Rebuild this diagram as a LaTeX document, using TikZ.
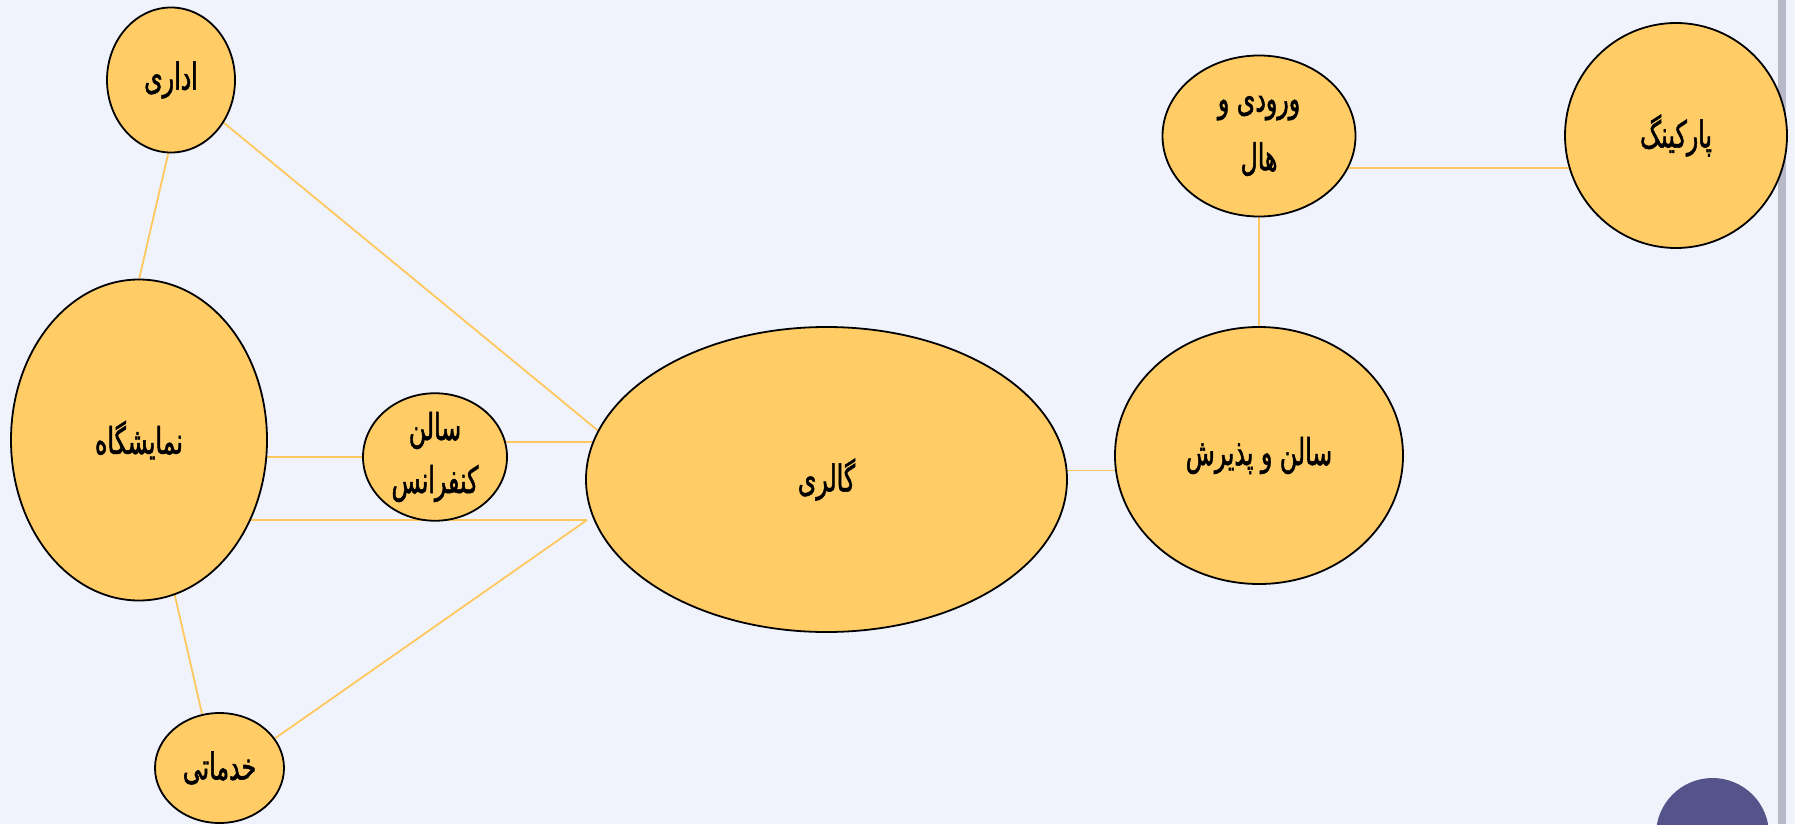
\documentclass[tikz,border=0pt]{standalone}
\usepackage{fontspec}
\TeXXeTstate=1
\newfontfamily\fa[Script=Arabic,FakeStretch=0.64,FakeBold=1.4]{DejaVu Sans}
\usetikzlibrary{shapes.geometric,backgrounds}
\definecolor{bgc}{RGB}{240,243,251}
\definecolor{roomfill}{RGB}{255,204,102}
\definecolor{linkc}{RGB}{255,200,95}
\definecolor{barc}{RGB}{184,184,200}
\definecolor{purp}{RGB}{85,84,138}
\begin{document}
\begin{tikzpicture}[x=1pt,y=-1pt,
  room/.style={ellipse, draw=black, line width=1.8pt, fill=roomfill,
    inner sep=0pt, outer sep=0pt, align=center,
    font=\fa\fontsize{37}{53}\selectfont},
  link/.style={draw=linkc, line width=1.8pt}]
\useasboundingbox (0,0) rectangle (1795,824);
\clip (0,0) rectangle (1795,824);
% rooms
\node[room, minimum width=128pt, minimum height=145pt] (adm) at (171,80) {\beginR اداری\endR};
\node[room, minimum width=256pt, minimum height=321pt] (exh) at (139,440) {\beginR نمایشگاه\endR};
\node[room, minimum width=144pt, minimum height=125pt] (conf) at (435,457) {\beginR سالن\endR\\\beginR کنفرانس\endR};
\node[room, minimum width=129pt, minimum height=110pt] (serv) at (219.5,768) {\beginR خدماتی\endR};
\node[room, minimum width=481pt, minimum height=305pt] (gal) at (826.5,479.5) {\beginR گالری\endR};
\node[room, minimum width=288pt, minimum height=257pt] (rec) at (1259,455.5) {\beginR سالن و پذیرش\endR};
\node[room, minimum width=193pt, minimum height=161pt] (ent) at (1259,136) {\beginR ورودی و\endR\\[6pt]\beginR هال\endR};
\node[room, minimum width=222pt, minimum height=225pt] (park) at (1676,135.5) {\beginR پارکینگ\endR};
\coordinate (gjoin) at (587,520);
\fill[purp] (1712.5,834.5) circle (56.5);
\begin{pgfonlayer}{background}
\fill[bgc] (0,0) rectangle (1795,824);
\fill[barc] (1778,0) rectangle (1786,824);
\path[link] (adm.-39.6) -- (gal.168.9);
\path[link] (adm.-92.4) -- (exh.90);
\path[link] (conf.west) -- (conf.west -| exh.center);
\path[link] (conf.12.5) -- (conf.12.5 -| gal.center);
\path[link] (gjoin) -- (gjoin -| exh.center);
\path[link] (gjoin) -- (serv.28.8);
\path[link] (serv.108.9) -- (exh.-77.5);
\path[link] (rec.186.6) -- (rec.186.6 -| gal.center);
\path[link] (ent.south) -- (rec.north);
\path[link] (park.197) -- (park.197 -| ent.center);
\end{pgfonlayer}
\end{tikzpicture}
\end{document}
